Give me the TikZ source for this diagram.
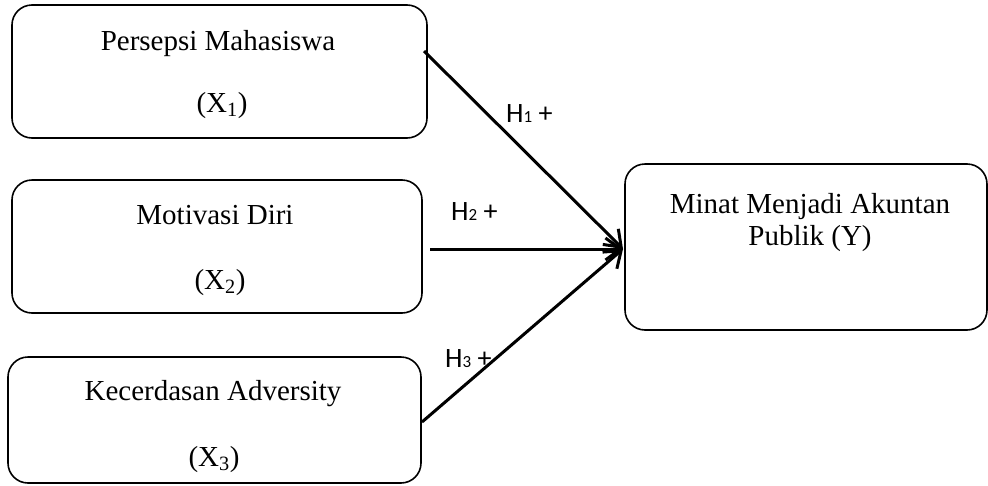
\documentclass[tikz,border=0pt]{standalone}
\usepackage{fontspec}
\setmainfont{Liberation Serif}
\newfontfamily\calibri{Carlito}
\usetikzlibrary{arrows.meta}
\begin{document}
\begin{tikzpicture}[x=1pt,y=-1pt,
  box/.style={draw, line width=1.6pt, rounded corners=20pt, inner sep=0pt},
  lbl/.style={font=\fontsize{29}{34}\selectfont, inner sep=0pt, anchor=base},
  hyp/.style={font=\calibri\fontsize{28}{30}\selectfont, inner sep=0pt, anchor=base west},
  link/.style={line width=3pt, -{Straight Barb[length=15pt,width=22pt,line width=3pt]}}]
\useasboundingbox (0,0) rectangle (988,485);

% boxes
\node[box, minimum width=415pt, minimum height=133pt] (b1) at (219.5,71.5) {};
\node[box, minimum width=410pt, minimum height=133pt] (b2) at (217,246.5) {};
\node[box, minimum width=413pt, minimum height=126pt] (b3) at (214.5,420) {};
\node[box, minimum width=362pt, minimum height=166pt] (by) at (806,247) {};

% texts
\node[lbl] (t1a) at (218,50) {Persepsi Mahasiswa};
\node[lbl] (t1b) at (222,112) {(X\textsubscript{1})};
\node[lbl] (t2a) at (215,224) {Motivasi Diri};
\node[lbl] (t2b) at (220,289) {(X\textsubscript{2})};
\node[lbl] (t3a) at (213,400) {Kecerdasan Adversity};
\node[lbl] (t3b) at (214,466) {(X\textsubscript{3})};
\node[lbl] (tya) at (810,213) {Minat Menjadi Akuntan};
\node[lbl] (tyb) at (810,245) {Publik (Y)};

% connectors
\coordinate (s1) at (424,51);
\coordinate (s2) at (430,249);
\coordinate (s3) at (422,422);
\coordinate (tip) at (623,249);
\draw[link] (s1) -- (tip);
\draw[link] (s2) -- (tip);
\draw[link] (s3) -- (tip);

% hypothesis labels
\node[hyp] (h1) at (506,122) {H{\fontsize{17}{18}\selectfont 1} +};
\node[hyp] (h2) at (451,220) {H{\fontsize{17}{18}\selectfont 2} +};
\node[hyp] (h3) at (445,367) {H{\fontsize{17}{18}\selectfont 3} +};
\end{tikzpicture}
\end{document}
